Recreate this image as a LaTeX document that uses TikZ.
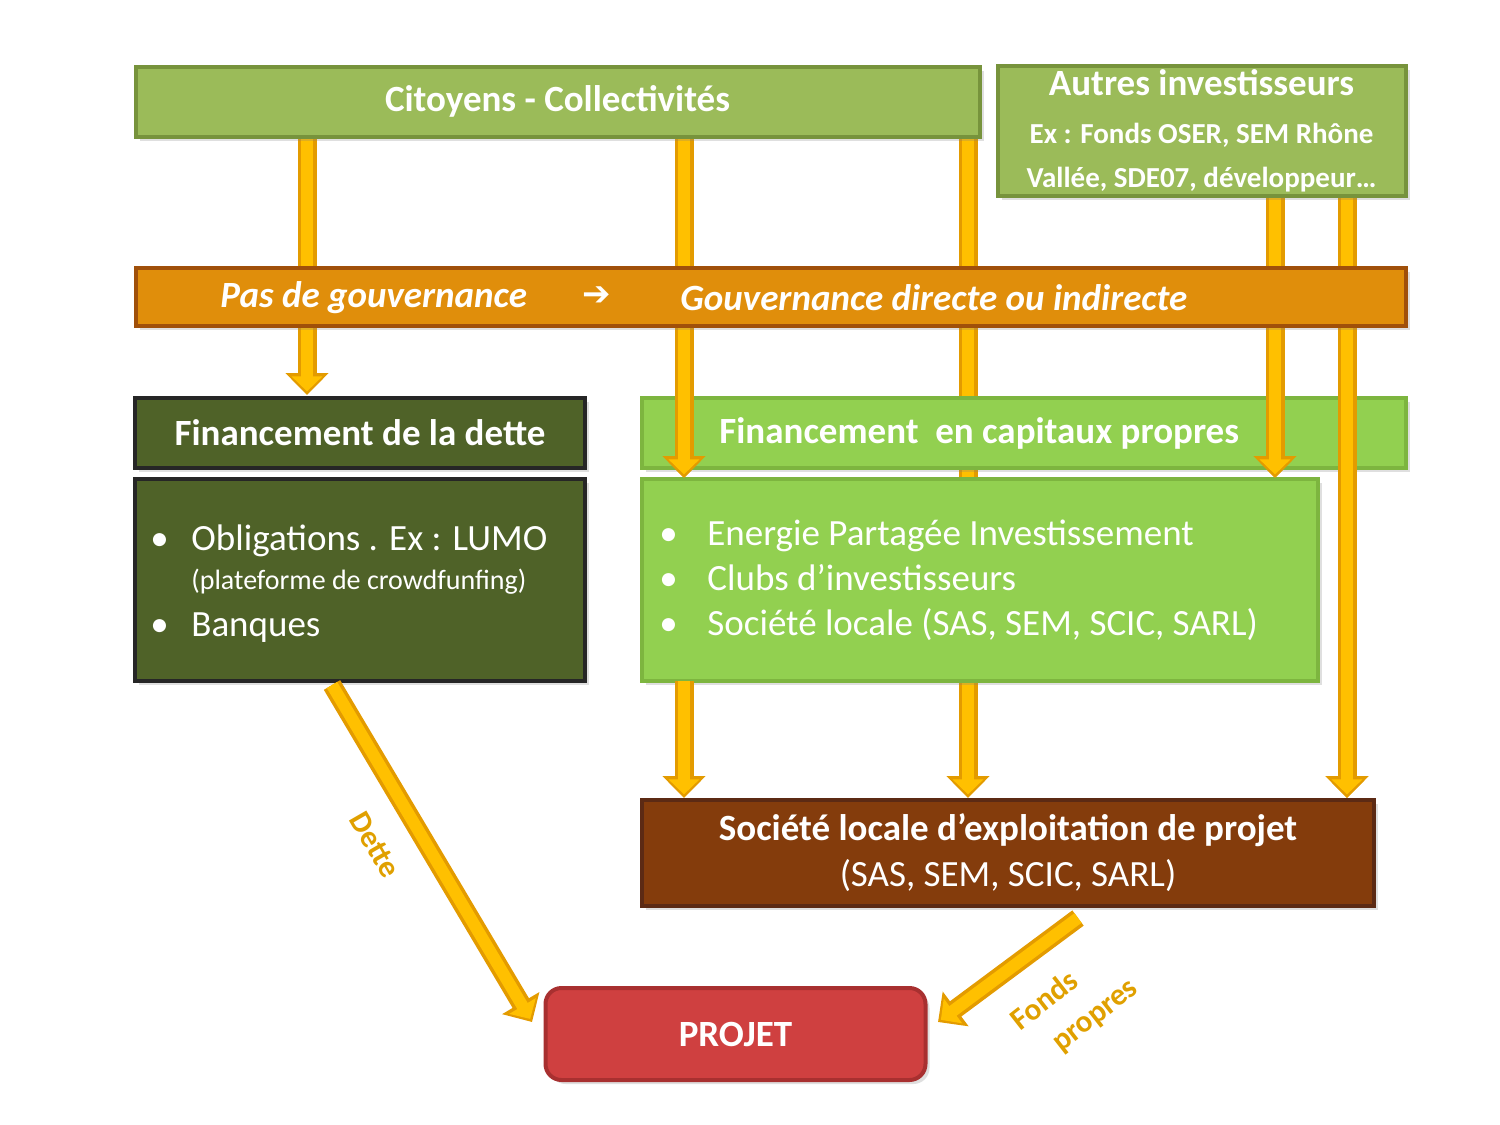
\documentclass[tikz,border=0pt]{standalone}
\usepackage{fontspec}
\setmainfont{Carlito}
\newfontfamily\djv{DejaVu Sans}
\usetikzlibrary{arrows.meta,shadows}
\definecolor{agreen}{HTML}{9BBB59}\definecolor{agreenb}{HTML}{77933C}
\definecolor{lgreen}{HTML}{92D050}\definecolor{lgreenb}{HTML}{7DB53F}
\definecolor{dgreen}{HTML}{4F6228}\definecolor{gov}{HTML}{E08E0B}\definecolor{govb}{HTML}{A0500A}
\definecolor{brown}{HTML}{843C0C}\definecolor{brownb}{HTML}{5C2A14}
\definecolor{proj}{HTML}{CF4040}\definecolor{projb}{HTML}{A83030}
\definecolor{ayel}{HTML}{FFC000}\definecolor{aedge}{HTML}{E39B00}\definecolor{lab}{HTML}{E0A000}
\begin{document}
\begin{tikzpicture}[x=0.5pt,y=-0.5pt,
 box/.style={draw=#1,line width=2pt,drop shadow={opacity=0.25,shadow xshift=2pt,shadow yshift=-2pt},inner sep=0pt,text=white,font=\fontsize{18.5}{22}\selectfont\bfseries},
 fatout/.style={draw=aedge,line width=9.5pt,-{Triangle[length=11pt,width=21pt]}},
 fatin/.style={draw=ayel,line width=6pt,shorten >=1.8pt,-{Triangle[length=7.5pt,width=15pt]}},
 lst/.style={align=left,font=\fontsize{18.5}{22.5}\selectfont,text=white,inner sep=0pt}]
\useasboundingbox (0,0) rectangle (1500,1125);
\coordinate (a1) at (307,138); \coordinate (a1e) at (307,395);
\coordinate (b1) at (684,138); \coordinate (b2) at (684,330); \coordinate (b1e) at (684,478);
\coordinate (c1) at (968,138); \coordinate (c1e) at (968,798);
\coordinate (d1) at (1275,197); \coordinate (d2) at (1275,330); \coordinate (d1e) at (1275,478);
\coordinate (e1) at (1347,197); \coordinate (e2) at (1347,330); \coordinate (e1e) at (1347,798);
\coordinate (f1) at (684,681); \coordinate (f1e) at (684,798);
\foreach \s/\t in {a1/a1e,c1/c1e,b1/b1e,d1/d1e,e1/e1e}{\draw[fatout] (\s)--(\t); \draw[fatin] (\s)--(\t);}
\node[box=agreenb,fill=agreen,minimum width=422pt,minimum height=35pt] (cit) at (557.5,101.5) {Citoyens - Collectivités};
\node[box=agreenb,fill=agreen,minimum width=204pt,minimum height=65pt,align=center] (aut) at (1201.5,131)
 {\fontsize{18.5}{18}\selectfont Autres investisseurs\\[2pt]\fontsize{14.5}{19}\selectfont Ex : Fonds OSER, SEM Rhône\\\fontsize{14.5}{17}\selectfont Vallée, SDE07, développeur…};
\node[box=govb,fill=gov,minimum width=635pt,minimum height=29pt] (gov) at (770.5,297) {};
\node[text=white,font=\fontsize{18.5}{20}\selectfont\bfseries\itshape,anchor=west,inner sep=0pt] (g1) at (220,298) {Pas de gouvernance};
\node[text=white,font=\djv\fontsize{17}{18}\selectfont\bfseries] (g2) at (597,296) {➔};
\node[text=white,font=\fontsize{18.5}{20}\selectfont\bfseries\itshape,anchor=west,inner sep=0pt] (g3) at (680,298) {Gouvernance directe ou indirecte};
\node[box=black!85,fill=dgreen,minimum width=225pt,minimum height=35pt] (fd) at (360,432.5) {Financement de la dette};
\node[box=black!85,fill=dgreen,minimum width=225pt,minimum height=101pt] (fdl) at (360,579.5) {};
\node[lst,anchor=north west] (fdt) at (150,524) {%
\makebox[20.5pt][l]{•}Obligations . Ex : LUMO\\[-3pt]
\hspace*{20.5pt}{\fontsize{14}{17}\selectfont (plateforme de crowdfunfing)}\\[1pt]
\makebox[20.5pt][l]{•}Banques};
\node[box=lgreenb,fill=lgreen,minimum width=382pt,minimum height=35pt] (fc) at (1024,432.5) {};
\node[text=white,font=\fontsize{18.5}{22}\selectfont\bfseries,anchor=west,inner sep=0pt] (fct) at (719,433) {Financement \ en capitaux propres};
\node[box=lgreenb,fill=lgreen,minimum width=338pt,minimum height=101pt] (fcl) at (980,579.5) {};
\node[lst,anchor=north west] (fcg) at (659,520) {%
\makebox[24pt][l]{•}Energie Partagée Investissement\\
\makebox[24pt][l]{•}Clubs d’investisseurs\\
\makebox[24pt][l]{•}Société locale (SAS, SEM, SCIC, SARL)};
\foreach \s/\t in {b2/b1e,d2/d1e,e2/e1e,f1/f1e}{\draw[fatout] (\s)--(\t); \draw[fatin] (\s)--(\t);}
\node[box=brownb,fill=brown,minimum width=366pt,minimum height=53pt,align=center] (soc) at (1008,853)
 {Société locale d’exploitation de projet\\[1pt]{\mdseries (SAS, SEM, SCIC, SARL)}};
\node[box=projb,fill=proj,rounded corners=8pt,minimum width=190pt,minimum height=46pt] (pj) at (735.5,1034) {PROJET};
\coordinate (dt) at (332,685); \coordinate (dte) at (532,1022);
\coordinate (fp) at (1078,918); \coordinate (fpe) at (938,1022);
\draw[fatout] (dt)--(dte); \draw[fatin] (dt)--(dte);
\draw[fatout] (fp)--(fpe); \draw[fatin] (fp)--(fpe);
\node[text=lab,font=\fontsize{15.5}{16}\selectfont\bfseries,rotate=-60] (dl) at (375,845) {Dette};
\node[text=lab,font=\fontsize{15.5}{21}\selectfont\bfseries,rotate=38,align=center] (fl) at (1058,1018) {Fonds\\ \qquad propres};
\end{tikzpicture}
\end{document}
